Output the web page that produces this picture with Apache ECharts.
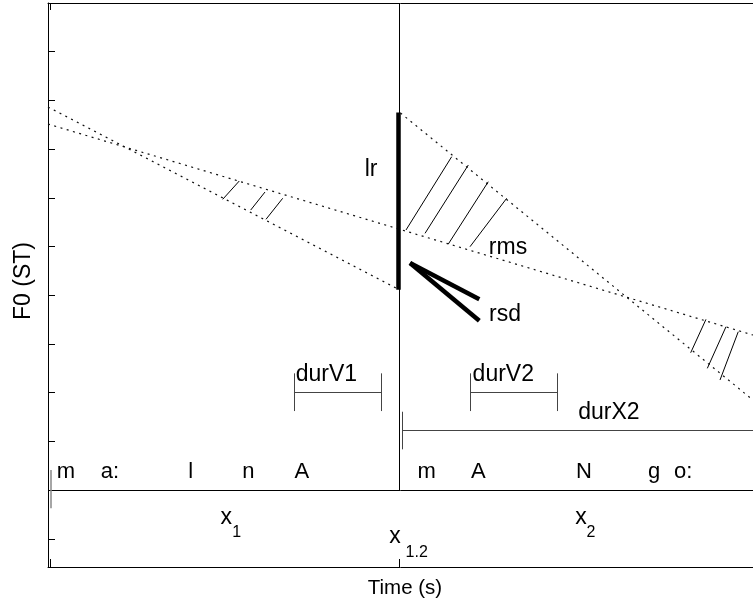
<!DOCTYPE html>
<html>
<head>
<meta charset="utf-8">
<script src="https://cdn.jsdelivr.net/npm/echarts@6/dist/echarts.min.js"></script>
<style>
html,body{margin:0;padding:0;background:#fff;}
#chart{width:753px;height:606px;}
</style>
</head>
<body>
<div id="chart"></div>
<script>
// ---- data (time in s, F0 in ST) ----
const timeRange = [0, 1];
const f0Range = [-0.58, 11];
const yTicks = [0, 1, 2, 3, 4, 5, 6, 7, 8, 9, 10];
const xTicks = [0.0038, 0.498];
const boundaryT = 0.498;
const tierF0 = 1.0;

// stylised F0 regression lines
const lineV1Fit = [[0, 8.865], [0.4965, 5.127]];
const lineRmsFit = [[0, 8.515], [1.0, 4.183]];
const lineV2Fit = [[0.5, 8.741], [1.0, 2.848]];

// local rise (lr) and rsd
const lrBar = [[0.4965, 5.11], [0.4965, 8.75]];
const rsdLines = [
  [[0.5135, 5.661], [0.6118, 4.916]],
  [[0.5135, 5.661], [0.6118, 4.476]]
];

// hatching between fits
const hatchLeft = [
  [[0.2478, 6.969], [0.2713, 7.345]],
  [[0.2875, 6.749], [0.3078, 7.119]],
  [[0.3092, 6.559], [0.3329, 6.990]]
];
const hatchUpperRight = [
  [[0.5078, 6.339], [0.5726, 7.844]],
  [[0.5348, 6.271], [0.5962, 7.674]],
  [[0.5678, 6.051], [0.6245, 7.331]],
  [[0.5986, 5.996], [0.6506, 6.990]]
];
const hatchLowerRight = [
  [[0.9116, 3.819], [0.9333, 4.505]],
  [[0.9352, 3.499], [0.9617, 4.353]],
  [[0.9532, 3.259], [0.9791, 4.251]]
];

// duration brackets
const durV1 = [0.3489, 0.4733];
const durV2 = [0.5986, 0.7224];
const durVF0 = [2.622, 3.006, 3.396];     // low, bar, high
const durX2 = [0.5031, 1.0];
const durXF0 = [1.836, 2.218, 2.608];
const x1Marker = [0.0038, 0.624, 1.411]; // t, low, high

// segment labels
const phonemeLabels = ['m', 'a:', 'l', 'n', 'A', 'm', 'A', 'N', 'g', 'o:'];
const phonemeTimes = [0.0255, 0.0879, 0.2024, 0.2841, 0.3599, 0.5372, 0.6104, 0.7603, 0.8596, 0.9011];
const phonemeF0 = 1.37;

// annotation labels
const annLabels = ['lr', 'rms', 'rsd', 'durV1', 'durV2', 'durX2'];
const annTimes = [0.4582, 0.6525, 0.6482, 0.395, 0.6458, 0.7957];
const annF0 = [7.571, 5.969, 4.600, 3.376, 3.376, 2.581];

const xLabels = ['x', 'x', 'x'];
const xLabelTimes = [0.2529, 0.4922, 0.756];
const xLabelF0 = [0.431, 0.035, 0.431];
const subLabels = ['1', '1.2', '2'];
const subTimes = [0.2676, 0.523, 0.7702];
const subF0 = [0.117, -0.283, 0.117];

// ---- build ----
const FONT = 'Liberation Sans, Arial, Helvetica, sans-serif';

function seg(a, b) { return { coords: [a, b] }; }

const thinSegs = [];
hatchLeft.concat(hatchUpperRight, hatchLowerRight).forEach(s => thinSegs.push(seg(s[0], s[1])));
thinSegs.push(seg([boundaryT, tierF0], [boundaryT, f0Range[1]]));
thinSegs.push(seg([timeRange[0], tierF0], [timeRange[1], tierF0]));

const bracketSegs = [];
[durV1, durV2].forEach(d => {
  bracketSegs.push(seg([d[0], durVF0[0]], [d[0], durVF0[2]]));
  bracketSegs.push(seg([d[1], durVF0[0]], [d[1], durVF0[2]]));
  bracketSegs.push(seg([d[0], durVF0[1]], [d[1], durVF0[1]]));
});
bracketSegs.push(seg([durX2[0], durXF0[0]], [durX2[0], durXF0[2]]));
bracketSegs.push(seg([durX2[0], durXF0[1]], [durX2[1], durXF0[1]]));

const thickSegs = [seg(lrBar[0], lrBar[1])];
rsdLines.forEach(s => thickSegs.push(seg(s[0], s[1])));

function textSeries(names, ts, vs, size) {
  return {
    type: 'scatter', silent: true, symbolSize: 0,
    itemStyle: { color: '#000', opacity: 1 },
    label: {
      show: true, position: 'inside', color: '#000', opacity: 1,
      textBorderWidth: 0, textBorderColor: 'transparent',
      fontFamily: FONT, fontSize: size, align: 'center', verticalAlign: 'middle',
      formatter: p => p.data[2]
    },
    data: names.map((n, i) => [ts[i], vs[i], n]),
    z: 10
  };
}

function dotted(data) {
  return {
    type: 'line', data: data, showSymbol: false, silent: true,
    lineStyle: { color: '#111', width: 1.2, type: [2, 4.5] }, z: 3
  };
}

const option = {
  animation: false,
  backgroundColor: '#fff',
  grid: { left: 48, right: 0, top: 3, bottom: 39 },
  xAxis: [
    {
      type: 'value', min: timeRange[0], max: timeRange[1], position: 'bottom',
      name: 'Time (s)', nameLocation: 'middle', nameGap: 11,
      nameTextStyle: { fontFamily: FONT, fontSize: 20.5, color: '#000', verticalAlign: 'top', padding: [0, 0, 0, 9] },
      axisLine: { show: true, onZero: false, lineStyle: { color: '#000', width: 1 } },
      axisTick: { show: true, inside: true, length: 8, customValues: xTicks, lineStyle: { color: '#000' } },
      axisLabel: { show: false }, splitLine: { show: false }
    },
    {
      type: 'value', min: timeRange[0], max: timeRange[1], position: 'top',
      axisLine: { show: true, onZero: false, lineStyle: { color: '#000', width: 1 } },
      axisTick: { show: true, inside: true, length: 7, customValues: xTicks, lineStyle: { color: '#000' } },
      axisLabel: { show: false }, splitLine: { show: false }
    }
  ],
  yAxis: {
    type: 'value', min: f0Range[0], max: f0Range[1],
    name: 'F0 (ST)', nameLocation: 'middle', nameGap: 13,
    nameTextStyle: { fontFamily: FONT, fontSize: 23, color: '#000', padding: [0, 0, 0, 8] },
    axisLine: { show: true, onZero: false, lineStyle: { color: '#000', width: 1 } },
    axisTick: { show: true, inside: true, length: 7, customValues: yTicks, lineStyle: { color: '#000' } },
    axisLabel: { show: false }, splitLine: { show: false }
  },
  series: [
    dotted(lineV1Fit),
    dotted(lineRmsFit),
    dotted(lineV2Fit),
    {
      type: 'lines', coordinateSystem: 'cartesian2d', silent: true,
      lineStyle: { color: '#000', width: 1, opacity: 1 }, data: thinSegs, z: 4
    },
    {
      type: 'lines', coordinateSystem: 'cartesian2d', silent: true,
      lineStyle: { color: '#444', width: 1, opacity: 1 }, data: bracketSegs, z: 4
    },
    {
      type: 'lines', coordinateSystem: 'cartesian2d', silent: true,
      lineStyle: { color: '#888', width: 1.5, opacity: 1 },
      data: [seg([x1Marker[0], x1Marker[1]], [x1Marker[0], x1Marker[2]])], z: 4
    },
    {
      type: 'lines', coordinateSystem: 'cartesian2d', silent: true,
      lineStyle: { color: '#000', width: 4.5, opacity: 1, cap: 'butt' }, data: thickSegs, z: 5
    },
    textSeries(phonemeLabels, phonemeTimes, phonemeTimes.map(() => phonemeF0), 22),
    textSeries(annLabels, annTimes, annF0, 23),
    textSeries(xLabels, xLabelTimes, xLabelF0, 23),
    textSeries(subLabels, subTimes, subF0, 16)
  ]
};

const chart = echarts.init(document.getElementById('chart'), null, { renderer: 'canvas' });
chart.setOption(option);
</script>
</body>
</html>
